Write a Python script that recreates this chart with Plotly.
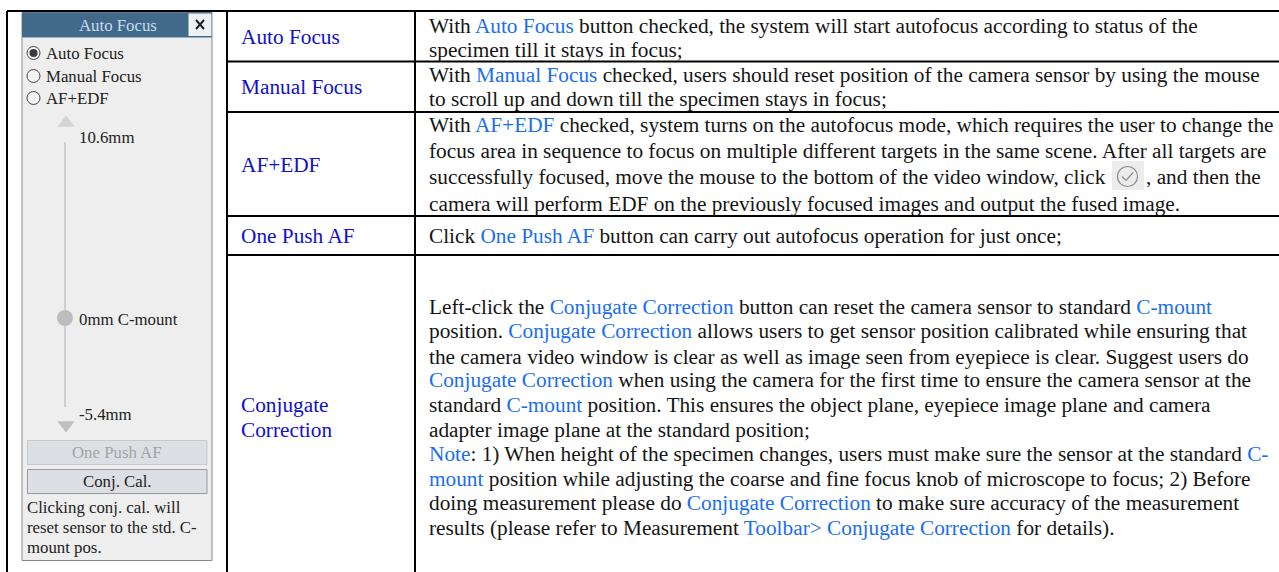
import plotly.graph_objects as go

W, H = 1279, 572
SERIF = "Liberation Serif"
INK = "#151515"
LINK = "#1a6ef0"
LABEL = "#1010cc"
BODY_SIZE = 21.3
PANEL_SIZE = 16.8

row_labels = ["Auto Focus", "Manual Focus", "AF+EDF", "One Push AF", "Conjugate", "Correction"]
label_y = [37, 87, 165, 236, 405, 430]

body_lines = [
    "With [[Auto Focus]] button checked, the system will start autofocus according to status of the",
    "specimen till it stays in focus;",
    "With [[Manual Focus]] checked, users should reset position of the camera sensor by using the mouse",
    "to scroll up and down till the specimen stays in focus;",
    "With [[AF+EDF]] checked, system turns on the autofocus mode, which requires the user to change the",
    "focus area in sequence to focus on multiple different targets in the same scene. After all targets are",
    "successfully focused, move the mouse to the bottom of the video window, click",
    "camera will perform EDF on the previously focused images and output the fused image.",
    "Click [[One Push AF]] button can carry out autofocus operation for just once;",
    "Left-click the [[Conjugate Correction]] button can reset the camera sensor to standard [[C-mount]]",
    "position. [[Conjugate Correction]] allows users to get sensor position calibrated while ensuring that",
    "the camera video window is clear as well as image seen from eyepiece is clear. Suggest users do",
    "[[Conjugate Correction]] when using the camera for the first time to ensure the camera sensor at the",
    "standard [[C-mount]] position. This ensures the object plane, eyepiece image plane and camera",
    "adapter image plane at the standard position;",
    "[[Note]]: 1) When height of the specimen changes, users must make sure the sensor at the standard [[C-]]",
    "[[mount]] position while adjusting the coarse and fine focus knob of microscope to focus; 2) Before",
    "doing measurement please do [[Conjugate Correction]] to make sure accuracy of the measurement",
    "results (please refer to Measurement [[Toolbar> Conjugate Correction]] for details).",
]
body_y = [26, 50, 75, 99, 125, 151, 177, 204, 236, 307, 331, 357, 380, 405, 430, 454, 479, 503, 528]

grid_v = [7, 227, 415]
grid_h = [11, 61.5, 112, 216, 255]

panel_radio = ["Auto Focus", "Manual Focus", "AF+EDF"]
radio_y = [53, 76, 98]
slider_labels = ["10.6mm", "0mm C-mount", "-5.4mm"]
slider_label_y = [137, 319, 414]
note_lines = ["Clicking conj. cal. will", "reset sensor to the std. C-", "mount pos."]
note_y = [507, 527, 547]


def markup(s):
    return s.replace("[[", f'<span style="color:{LINK}">').replace("]]", "</span>")


fig = go.Figure()
shapes = []
ann = []


def rect(x0, y0, x1, y1, fill, line=None, lw=1):
    shapes.append(dict(type="rect", x0=x0, y0=y0, x1=x1, y1=y1, fillcolor=fill, layer="below",
                       line=dict(color=line or fill, width=lw if line else 0)))


def seg(x0, y0, x1, y1, color, lw):
    shapes.append(dict(type="line", x0=x0, y0=y0, x1=x1, y1=y1, line=dict(color=color, width=lw), layer="below"))


def text(x, y, s, size=BODY_SIZE, color=INK, anchor="left"):
    ann.append(dict(x=x, y=y, text=s, showarrow=False, xanchor=anchor, yanchor="middle", align=anchor,
                    xref="x", yref="y", borderpad=0, borderwidth=0,
                    font=dict(family=SERIF, size=size, color=color)))


# Table grid: the left cell spans all rows, so only the top rule reaches it
for x in grid_v:
    seg(x, grid_h[0], x, H, "#000000", 2)
seg(grid_v[0], grid_h[0], W, grid_h[0], "#000000", 2)
for y in grid_h[1:]:
    seg(grid_v[1], y, W, y, "#000000", 2)

for y, s in zip(label_y, row_labels):
    text(241, y, s, BODY_SIZE, LABEL)
for y, s in zip(body_y, body_lines):
    text(429, y, markup(s))
text(1146, 177, ", and then the")

# Inline check icon
rect(1112, 161, 1144, 190, "#ececec")
shapes.append(dict(type="circle", x0=1117.5, y0=166.5, x1=1137.5, y1=186.5, line=dict(color="#8c8c8c", width=1.2),
                   fillcolor="rgba(0,0,0,0)", layer="below"))
seg(1122, 176.5, 1126, 180.5, "#8c8c8c", 1.2)
seg(1126, 180.5, 1133, 172.5, "#8c8c8c", 1.2)

# Side panel
rect(22, 12.5, 212, 560.5, "#eeeeee", "#8a8a8a", 1)
rect(22, 12.5, 212, 37, "#41698a")
seg(22, 37.5, 212, 37.5, "#9fb0bd", 1)
rect(188.5, 13.5, 211.5, 36, "#eef0f1")
seg(196, 20, 204, 29, "#222222", 2)
seg(204, 20, 196, 29, "#222222", 2)
text(118, 25, "Auto Focus", PANEL_SIZE, "#c9dcec", "center")

for y, s in zip(radio_y, panel_radio):
    text(45.5, y, s, PANEL_SIZE, "#222222")
fig.add_trace(go.Scatter(x=[33.5] * 3, y=radio_y, mode="markers", hoverinfo="skip",
                         marker=dict(symbol="circle", size=13, color="#f2f2f2", line=dict(color="#444444", width=1))))
fig.add_trace(go.Scatter(x=[33.5], y=radio_y[:1], mode="markers", hoverinfo="skip",
                         marker=dict(symbol="circle", size=8, color="#3a3a3a")))

# Slider
seg(65, 142, 65, 407, "#c4c4c4", 1.5)
fig.add_trace(go.Scatter(x=[66], y=[123], mode="markers", hoverinfo="skip",
                         marker=dict(symbol="triangle-up", size=15, color="#d4d4d4")))
fig.add_trace(go.Scatter(x=[66], y=[425], mode="markers", hoverinfo="skip",
                         marker=dict(symbol="triangle-down", size=15, color="#c0c0c0")))
fig.add_trace(go.Scatter(x=[65], y=[318], mode="markers", hoverinfo="skip",
                         marker=dict(symbol="circle", size=16, color="#bdbdbd")))
for y, s in zip(slider_label_y, slider_labels):
    text(79, y, s, PANEL_SIZE, "#222222")

# Buttons
rect(27.5, 440.5, 207, 464.5, "#dcdfe3", "#c8c8c8", 1)
rect(27.5, 469.5, 207, 493.5, "#dcdfe3", "#9a9a9a", 1)
text(117, 452, "One Push AF", PANEL_SIZE, "#a4a4a4", "center")
text(117, 481, "Conj. Cal.", PANEL_SIZE, "#222222", "center")
for y, s in zip(note_y, note_lines):
    text(27, y, s, PANEL_SIZE, "#222222")

fig.update_layout(
    width=W, height=H, margin=dict(l=0, r=0, t=0, b=0), showlegend=False,
    paper_bgcolor="white", plot_bgcolor="white", shapes=shapes, annotations=ann,
    xaxis=dict(range=[0, W], visible=False, fixedrange=True),
    yaxis=dict(range=[H, 0], visible=False, fixedrange=True),
)
fig.write_html("out.html", config=dict(displayModeBar=False),
               post_script="document.body.style.margin='0';document.documentElement.style.overflow='hidden';")
